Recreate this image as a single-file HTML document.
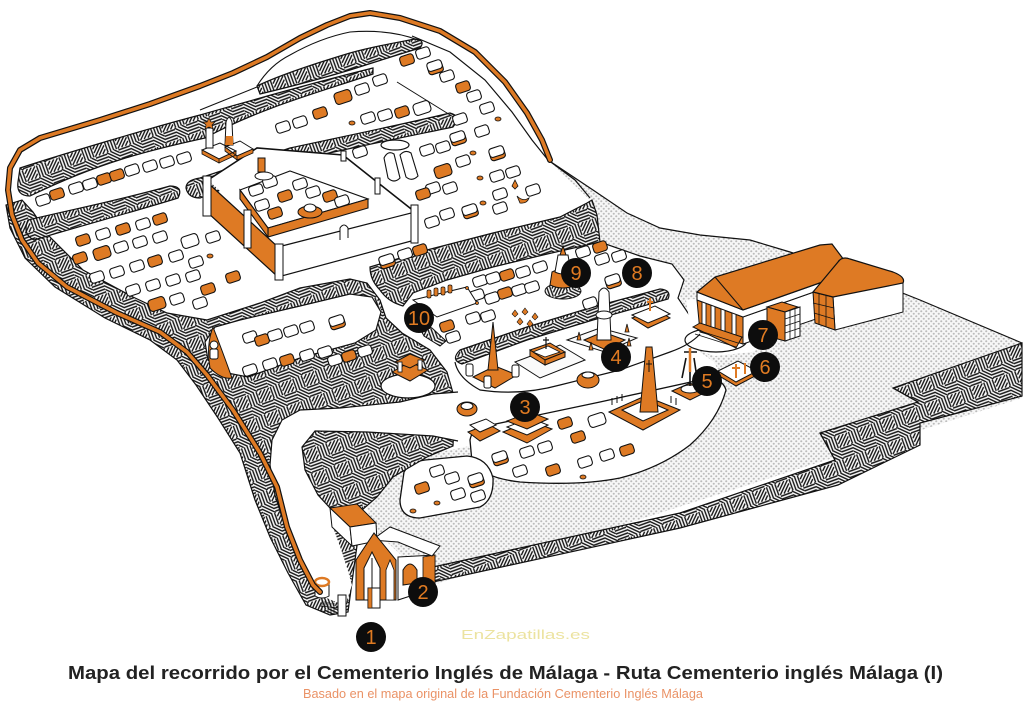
<!DOCTYPE html>
<html><head><meta charset="utf-8"><style>
html,body{margin:0;padding:0;background:#fff;}
svg{display:block;}
</style></head><body>
<svg width="1024" height="716" viewBox="0 0 1024 716" xmlns="http://www.w3.org/2000/svg">
<defs>
<pattern id="h" width="24" height="24" patternUnits="userSpaceOnUse" patternTransform="rotate(-20)">
<rect width="24" height="24" fill="#fff"/>
<path d="M1.5 0V12M4.5 0V12M7.5 0V12M10.5 0V12M12 13.5H24M12 16.5H24M12 19.5H24M12 22.5H24M12 4L16 0M12 8L20 0M12 12L24 0M16 12L24 4M20 12L24 8M0 12L12 24M4 12L12 20M8 12L12 16M0 16L8 24M0 20L4 24" stroke="#111" stroke-width="1.4" fill="none"/>
</pattern>
<pattern id="d" width="5" height="5" patternUnits="userSpaceOnUse">
<rect width="5" height="5" fill="#f7f7f7"/>
<circle cx="1.25" cy="1.25" r="1.05" fill="#bcbcbc"/>
<circle cx="3.75" cy="3.75" r="1.05" fill="#bcbcbc"/>
</pattern>
<g id="w"><rect x="-7" y="-5" width="14" height="10" rx="3" transform="rotate(-18)" fill="#fff" stroke="#111" stroke-width="1.1"/></g>
<g id="o"><rect x="-7" y="-5" width="14" height="10" rx="3" transform="rotate(-18)" fill="#de7a24" stroke="#111" stroke-width="1.1"/></g>
<g id="wb"><rect x="-8.5" y="-6" width="17" height="12" rx="3.5" transform="rotate(-18)" fill="#fff" stroke="#111" stroke-width="1.1"/></g>
<g id="ob"><rect x="-8.5" y="-6" width="17" height="12" rx="3.5" transform="rotate(-18)" fill="#de7a24" stroke="#111" stroke-width="1.1"/></g>
<g id="wo"><rect x="-7.5" y="-3.5" width="15" height="10" rx="3" transform="rotate(-18)" fill="#de7a24" stroke="#111" stroke-width="1.1"/><rect x="-7.5" y="-6" width="15" height="9" rx="3" transform="rotate(-18)" fill="#fff" stroke="#111" stroke-width="1.1"/></g>
<g id="s"><ellipse rx="3" ry="2" fill="#de7a24" stroke="#111" stroke-width="0.8"/></g>
</defs>

<!-- dotted ground -->
<path d="M548,160 L593,190 L627,213 L660,228 L700,235 L750,240 L790,252 L850,272 L920,300 L1022,343 L1022,398 L433,585 L372,528 L365,498 L395,462 L465,445 L700,380 L600,245 L590,200 Z" fill="url(#d)"/>
<path d="M548,160 L593,190 L627,213 L660,228 L700,235 L750,240 L790,252 L850,272 L920,300 L1022,343" fill="none" stroke="#111" stroke-width="1.2"/>

<!-- central white region over dotted -->
<path d="M590,198 L600,240 L640,257 L672,264 L684,280 L680,298 L690,316 L700,324 L690,338 L700,352 L714,362 L724,382 L700,382 L470,446 L440,452 L448,400 L452,350 L420,300 L440,270 L540,230 Z" fill="#fff"/>
<path d="M600,242 L640,256 L672,264 L684,280 L678,298 L690,316 L700,324" fill="none" stroke="#111" stroke-width="1.2"/>

<!-- lower terrace (3) -->
<path d="M470,440 Q472,428 486,426 L600,402 L700,380 Q722,376 726,390 Q718,420 690,445 Q660,468 620,478 Q580,486 520,482 Q484,478 472,462 Z" fill="#fff" stroke="#111" stroke-width="1.3"/>
<!-- small island -->
<path d="M404,472 Q410,462 425,460 L467,456 Q488,458 493,478 Q494,500 480,507 L420,518 Q400,518 400,500 Z" fill="#fff" stroke="#111" stroke-width="1.3"/>
<!-- white path near 5-7 -->
<path d="M686,300 Q700,296 720,310 L760,330 Q770,345 752,352 L715,356 Q698,352 692,338 Z" fill="#fff"/>
<ellipse cx="716" cy="340" rx="31" ry="12" fill="#fff" stroke="#111" stroke-width="1.2"/>

<!-- right cliff & bottom band -->
<path d="M433,567 L680,513 L835,460 L820,433 L918,402 L893,388 L1022,343 L1022,396 L920,423 L920,445 L838,485 L680,528 L433,582 Z" fill="url(#h)" stroke="#111" stroke-width="1.2"/>
<path d="M820,433 L835,460 M893,388 L918,402" stroke="#111" stroke-width="1.2" fill="none"/>

<!-- big left hatched mass -->
<path d="M6,205 L10,228 L25,258 L55,287 L105,318 L150,340 L177,360 L196,385 L218,418 L240,453 L255,500 L270,537 L288,573 L306,605 L330,615 L348,612 L355,560 L362,510 L377,497 L393,477 L427,457 L453,446 L455,400 L447,372 L430,350 L402,333 L386,318 L380,300 L367,283 L350,279 L300,288 L260,303 L207,320 L167,313 L133,297 L83,270 L50,237 L33,212 L22,200 Z" fill="url(#h)" stroke="#111" stroke-width="1.2"/>
<!-- white curved path -->
<path d="M458,392 L433,394 L400,402 L340,408 L300,410 L282,420 L272,440 L270,465 L275,495 L286,530 L302,565 L320,595 L345,606 L352,585 L343,555 L333,527 L330,508 L318,495 L305,470 L302,447 L315,431 L367,432 L433,436 L458,441 Z" fill="#fff"/>
<path d="M458,392 L433,394 L400,402 L340,408 L300,410 L282,420 L272,440 L270,465 L275,495 L286,530 L302,565 L320,595 M330,508 L318,495 L305,470 L302,447 L315,431 L367,432 L433,436 L458,441" fill="none" stroke="#111" stroke-width="1.2"/>
<!-- lock row island -->
<path d="M205,342 L215,327 L240,320 L300,306 L350,294 L372,297 L381,312 L376,330 L355,343 L300,358 L248,377 L222,372 L208,360 Z" fill="#fff" stroke="#111" stroke-width="1.2"/>
<!-- monument base in F -->
<ellipse cx="408" cy="386" rx="27" ry="12" fill="#fff" stroke="#111" stroke-width="1.2"/>

<!-- top strips -->
<path d="M257,86 C280,75 320,62 350,53 C375,46 400,42 415,39 Q426,40 420,48 C400,54 375,62 350,70 C320,79 285,88 260,94 Z" fill="url(#h)" stroke="#111" stroke-width="1.2"/>
<path d="M257,86 Q270,65 290,55 Q320,38 350,32 Q390,29 418,40" fill="none" stroke="#111" stroke-width="1.1"/>
<path d="M200,110 L257,87" fill="none" stroke="#111" stroke-width="1.1"/>
<path d="M20,168 C60,155 150,128 200,115 C250,101 300,86 373,68 L373,74 C320,92 260,108 205,138 C150,150 100,162 30,196 Q16,196 18,182 Z" fill="url(#h)" stroke="#111" stroke-width="1.2"/>
<path d="M28,220 C70,210 120,200 170,186 Q184,186 178,198 C140,210 80,226 34,240 Q22,234 28,220 Z" fill="url(#h)" stroke="#111" stroke-width="1.2"/>
<path d="M186,188 Q186,180 200,178 L290,148 C350,135 400,125 450,113 Q462,116 453,127 C400,138 350,148 298,160 L200,198 Q188,198 186,188 Z" fill="url(#h)" stroke="#111" stroke-width="1.2"/>
<!-- cliff band of top terrace -->
<path d="M370,267 L427,250 L493,233 L560,217 L587,203 L592,200 L597,215 L600,242 L543,255 L493,267 L447,280 L413,293 L403,306 Q388,302 380,290 Q370,280 370,267 Z" fill="url(#h)" stroke="#111" stroke-width="1.2"/>
<!-- strip behind 4 -->
<path d="M460,350 L527,327 L593,307 L660,289 Q672,290 668,299 L593,320 L527,340 L462,364 Q450,360 460,350 Z" fill="url(#h)" stroke="#111" stroke-width="1.2"/>
<path d="M416,321 L432,328 L446,341 L440,346 L424,336 Z" fill="url(#h)" stroke="#111" stroke-width="1"/>
<!-- middle terrace outline -->
<path d="M455,362 Q458,378 480,390 Q520,396 560,385 L620,370 L670,352 Q690,345 700,334" fill="none" stroke="#111" stroke-width="1.2"/>

<!-- top terrace right edge line -->
<path d="M412,36 L450,52 L485,80 L512,112 L532,140 L548,160 L575,180 L590,198" fill="none" stroke="#111" stroke-width="1.2"/>
<path d="M397,82 L455,118" fill="none" stroke="#111" stroke-width="1"/>

<!-- ===== Tombs ===== -->
<g>
<use href="#w" x="43" y="200"/><use href="#o" x="57" y="194"/><use href="#w" x="76" y="188"/><use href="#w" x="90" y="184"/><use href="#o" x="104" y="179"/><use href="#o" x="117" y="175"/><use href="#w" x="132" y="170"/><use href="#w" x="150" y="166"/><use href="#w" x="167" y="162"/><use href="#w" x="184" y="158"/>
<use href="#o" x="83" y="240"/><use href="#w" x="103" y="234"/><use href="#o" x="123" y="229"/><use href="#w" x="143" y="224"/><use href="#o" x="160" y="219"/>
<use href="#o" x="80" y="258"/><use href="#ob" x="102" y="253"/><use href="#w" x="121" y="247"/><use href="#w" x="140" y="242"/><use href="#w" x="160" y="237"/><use href="#wb" x="190" y="241"/><use href="#w" x="213" y="237"/>
<use href="#w" x="97" y="277"/><use href="#w" x="117" y="272"/><use href="#w" x="137" y="266"/><use href="#o" x="155" y="261"/><use href="#w" x="176" y="256"/><use href="#w" x="196" y="262"/><use href="#s" x="210" y="256"/><use href="#o" x="233" y="277"/>
<use href="#w" x="133" y="290"/><use href="#w" x="153" y="285"/><use href="#w" x="173" y="280"/><use href="#w" x="193" y="276"/><use href="#o" x="208" y="289"/>
<use href="#ob" x="157" y="304"/><use href="#w" x="177" y="299"/><use href="#w" x="200" y="303"/>
<use href="#w" x="283" y="127"/><use href="#w" x="300" y="122"/><use href="#o" x="320" y="113"/><use href="#ob" x="343" y="97"/><use href="#w" x="362" y="89"/><use href="#w" x="380" y="80"/>
<use href="#s" x="352" y="123"/><use href="#w" x="368" y="118"/><use href="#w" x="385" y="115"/><use href="#o" x="402" y="112"/><use href="#wb" x="422" y="108"/>
<use href="#o" x="407" y="60"/><use href="#w" x="423" y="53"/><use href="#wo" x="435" y="67"/><use href="#w" x="447" y="76"/><use href="#o" x="463" y="87"/><use href="#w" x="474" y="96"/><use href="#w" x="487" y="108"/><use href="#s" x="498" y="119"/>
<use href="#w" x="360" y="152"/><use href="#w" x="427" y="150"/><use href="#w" x="443" y="147"/><use href="#s" x="473" y="153"/><use href="#w" x="463" y="161"/><use href="#ob" x="443" y="171"/><use href="#w" x="482" y="131"/><use href="#w" x="460" y="119"/><use href="#wo" x="458" y="138"/><use href="#wo" x="497" y="153"/>
<use href="#s" x="480" y="178"/><use href="#w" x="497" y="176"/><use href="#w" x="513" y="172"/><use href="#w" x="533" y="190"/><use href="#w" x="500" y="194"/><use href="#w" x="500" y="208"/><use href="#s" x="483" y="203"/><use href="#wo" x="470" y="211"/><use href="#w" x="450" y="188"/><use href="#w" x="433" y="188"/><use href="#o" x="423" y="194"/><use href="#w" x="447" y="214"/><use href="#w" x="432" y="222"/>
<use href="#wo" x="387" y="261"/><use href="#w" x="405" y="254"/><use href="#o" x="420" y="250"/>
<use href="#w" x="480" y="281"/><use href="#w" x="493" y="278"/><use href="#o" x="507" y="275"/><use href="#w" x="523" y="272"/><use href="#w" x="540" y="267"/><use href="#w" x="583" y="252"/><use href="#o" x="600" y="247"/><use href="#w" x="602" y="259"/><use href="#w" x="619" y="256"/><use href="#wo" x="613" y="281"/><use href="#w" x="477" y="295"/><use href="#w" x="492" y="298"/><use href="#o" x="505" y="293"/><use href="#w" x="519" y="290"/><use href="#w" x="532" y="287"/><use href="#w" x="590" y="303"/>
<use href="#w" x="473" y="318"/><use href="#w" x="488" y="316"/><use href="#o" x="447" y="326"/><use href="#w" x="453" y="337"/>
<use href="#w" x="250" y="337"/><use href="#o" x="262" y="340"/><use href="#w" x="275" y="335"/><use href="#w" x="291" y="331"/><use href="#w" x="307" y="327"/><use href="#wo" x="337" y="322"/><use href="#w" x="307" y="355"/><use href="#w" x="325" y="352"/><use href="#w" x="335" y="360"/><use href="#o" x="349" y="356"/><use href="#w" x="365" y="351"/><use href="#w" x="250" y="370"/><use href="#w" x="270" y="364"/><use href="#o" x="287" y="360"/>
<use href="#o" x="565" y="423"/><use href="#wb" x="597" y="420"/><use href="#wo" x="500" y="458"/><use href="#w" x="527" y="452"/><use href="#w" x="545" y="447"/><use href="#o" x="578" y="437"/><use href="#w" x="520" y="471"/><use href="#o" x="553" y="470"/><use href="#w" x="585" y="462"/><use href="#w" x="607" y="455"/><use href="#o" x="627" y="450"/><use href="#s" x="583" y="477"/>
<use href="#o" x="422" y="488"/><use href="#w" x="437" y="471"/><use href="#w" x="452" y="478"/><use href="#wo" x="476" y="480"/><use href="#w" x="478" y="496"/><use href="#w" x="458" y="494"/><use href="#s" x="437" y="503"/><use href="#s" x="413" y="511"/>
</g>

<!-- ===== Enclosure ===== -->
<path d="M208,180 L257,148 L343,155 L377,182 L415,212 L280,247 Z" fill="#fff"/>
<path d="M208,180 L257,148 L343,155 L377,182 L415,212" fill="none" stroke="#111" stroke-width="1.6"/>
<path d="M208,183 L278,247 L278,277 L208,213 Z" fill="#de7a24" stroke="#111" stroke-width="1.2"/>
<path d="M278,247 L415,212 L415,240 L278,277 Z" fill="#fff" stroke="#111" stroke-width="1.2"/>
<path d="M340,240 L340,228 Q344,222 348,228 L348,238" fill="#fff" stroke="#111" stroke-width="1"/>
<path d="M240,190 L290,171 L368,199 L268,228 Z" fill="#fff" stroke="#111" stroke-width="1.1"/>
<path d="M268,228 L368,199 L368,208 L268,237 Z" fill="#de7a24" stroke="#111" stroke-width="1.1"/>
<path d="M240,190 L268,228 L268,237 L240,199 Z" fill="#de7a24" stroke="#111" stroke-width="1.1"/>
<use href="#w" x="256" y="190"/><use href="#w" x="270" y="182"/><use href="#o" x="285" y="196"/><use href="#w" x="300" y="184"/><use href="#w" x="313" y="192"/><use href="#o" x="330" y="196"/><use href="#w" x="262" y="205"/><use href="#o" x="275" y="213"/><use href="#w" x="342" y="201"/>
<ellipse cx="310" cy="212" rx="12" ry="6" fill="#de7a24" stroke="#111"/><ellipse cx="310" cy="208" rx="6" ry="4" fill="#fff" stroke="#111"/>
<rect x="258" y="158" width="7" height="14" fill="#de7a24" stroke="#111"/><ellipse cx="264" cy="176" rx="9" ry="4" fill="#fff" stroke="#111"/>
<rect x="203" y="176" width="8" height="40" fill="#fff" stroke="#111"/>
<rect x="244" y="210" width="7" height="38" fill="#fff" stroke="#111"/>
<rect x="275" y="244" width="8" height="36" fill="#fff" stroke="#111"/>
<rect x="411" y="205" width="7" height="38" fill="#fff" stroke="#111"/>
<rect x="375" y="178" width="5" height="16" fill="#fff" stroke="#111"/>
<rect x="341" y="151" width="5" height="10" fill="#fff" stroke="#111"/>

<!-- monuments top-left -->
<path d="M202,150 L220,143 L236,151 L219,159 Z M225,147 L240,141 L253,149 L237,156 Z" fill="#fff" stroke="#111"/>
<path d="M202,150 L219,159 L219,163 L202,154 Z M219,159 L236,151 L236,155 L219,163 Z M225,147 L237,156 L237,160 L225,151 Z M237,156 L253,149 L253,153 L237,160 Z" fill="#de7a24" stroke="#111" stroke-width="0.8"/>
<rect x="206" y="128" width="7" height="20" fill="#fff" stroke="#111"/>
<path d="M209,118 l2,4 4,0 -3,3 1,4 -4,-2 -4,2 1,-4 -3,-3 4,0z" fill="#de7a24" stroke="#111" stroke-width="0.7"/>
<path d="M225,145 L226,122 Q229,113 232,122 L233,145 Z" fill="#fff" stroke="#111"/>
<path d="M226,136 L233,136 L233,145 L225,145 Z" fill="#de7a24"/>
<!-- sarcophagi top-right -->
<ellipse cx="395" cy="145" rx="14" ry="5" fill="#fff" stroke="#111" stroke-width="1.2"/>
<path d="M384,158 Q388,150 394,154 L400,178 Q394,184 388,178 Z M400,155 Q405,149 411,153 L418,176 Q412,182 406,177 Z" fill="#fff" stroke="#111" stroke-width="1.1"/>
<path d="M515,180 l3,6 -3,3 -3,-3z" fill="#de7a24" stroke="#111" stroke-width="0.8"/>
<path d="M517,196 q6,6 12,2 q-2,6 -9,5z" fill="#de7a24" stroke="#111" stroke-width="0.8"/>

<!-- 9 monument -->
<ellipse cx="563" cy="291" rx="18" ry="8" fill="url(#h)" stroke="#111"/>
<path d="M550,285 L552,272 Q563,266 574,272 L576,285 Q563,291 550,285 Z" fill="#de7a24" stroke="#111"/>
<path d="M555,272 L558,255 L568,255 L571,272 Q563,276 555,272 Z" fill="#fff" stroke="#111"/>
<path d="M560,255 L563,246 L566,255 Z" fill="#de7a24" stroke="#111"/>
<!-- 10 enclosure -->
<path d="M413,300 L467,287 L477,303 L437,317 Z" fill="#fff" stroke="#111" stroke-width="1"/>
<g fill="#de7a24" stroke="#111" stroke-width="0.7"><rect x="427" y="290" width="4" height="8" rx="1.5"/><rect x="434" y="288" width="4" height="8" rx="1.5"/><rect x="441" y="287" width="4" height="8" rx="1.5"/><rect x="448" y="285" width="4" height="8" rx="1.5"/><circle cx="467" cy="288" r="1.5"/><circle cx="477" cy="303" r="1.5"/></g>
<g fill="#de7a24" stroke="#111" stroke-width="0.6"><path d="M515,310 l3,4 -3,3 -3,-3z"/><path d="M525,308 l3,4 -3,3 -3,-3z"/><path d="M535,313 l3,4 -3,3 -3,-3z"/><path d="M520,318 l3,4 -3,3 -3,-3z"/><path d="M530,320 l3,4 -3,3 -3,-3z"/></g>

<!-- middle terrace monuments -->
<path d="M515,362 L560,345 L585,360 L540,378 Z" fill="#fafafa" stroke="#111" stroke-width="1"/>
<path d="M530,350 L550,343 L565,352 L545,360 Z" fill="#de7a24" stroke="#111"/>
<path d="M533,352 L548,346 L560,352 L545,357 Z" fill="#fff" stroke="#111" stroke-width="0.8"/>
<path d="M530,350 L545,360 L545,365 L530,356 Z M545,360 L565,352 L565,357 L545,365 Z" fill="#de7a24" stroke="#111"/>
<path d="M546,349 V337 M543,340 H549" stroke="#111" stroke-width="1.2"/>
<path d="M473,377 L495,366 L517,375 L495,388 Z" fill="#de7a24" stroke="#111"/>
<path d="M488,370 L493,322 L498,370 Z" fill="#de7a24" stroke="#111"/>
<g fill="#fff" stroke="#111" stroke-width="1"><rect x="466" y="364" width="7" height="12" rx="2"/><rect x="484" y="376" width="7" height="12" rx="2"/><rect x="512" y="365" width="7" height="12" rx="2"/></g>
<path d="M567,340 L600,328 L637,338 L605,352 Z" fill="#fafafa" stroke="#111" stroke-width="1"/>
<path d="M584,340 L603,332 L625,340 L606,350 Z" fill="#de7a24" stroke="#111"/>
<path d="M597,340 L599,292 Q604,284 609,292 L611,340 Z" fill="#fff" stroke="#111"/>
<ellipse cx="604" cy="315" rx="8" ry="4" fill="#fff" stroke="#111"/>
<g fill="#de7a24" stroke="#111" stroke-width="0.8"><path d="M577,340 l2,-8 2,8z"/><path d="M589,350 l2,-8 2,8z"/><path d="M625,332 l2,-8 2,8z"/><path d="M627,346 l2,-8 2,8z"/></g>
<ellipse cx="588" cy="380" rx="11" ry="8" fill="#de7a24" stroke="#111"/><ellipse cx="588" cy="375" rx="6" ry="3" fill="#fff" stroke="#111"/>
<path d="M632,318 L655,309 L670,318 L648,328 Z" fill="#de7a24" stroke="#111"/>
<path d="M632,315 L655,306 L670,314 L648,323 Z" fill="#fff" stroke="#111"/>
<path d="M650,311 V298 M647,302 H653" stroke="#de7a24" stroke-width="2"/>
<!-- left monument in F -->
<path d="M392,372 L410,362 L428,370 L410,381 Z" fill="#de7a24" stroke="#111"/>
<path d="M395,362 L410,354 L425,360 L410,368 Z" fill="#de7a24" stroke="#111"/>
<rect x="398" y="362" width="4" height="10" fill="#fff" stroke="#111" stroke-width="0.8"/><rect x="418" y="360" width="4" height="10" fill="#fff" stroke="#111" stroke-width="0.8"/>
<!-- lock -->
<path d="M213,327 Q206,345 210,368 Q222,380 232,378 Q222,350 213,327 Z" fill="#de7a24" stroke="#111"/>
<circle cx="214" cy="345" r="4" fill="#fff" stroke="#111"/><rect x="210" y="349" width="8" height="10" rx="2" fill="#fff" stroke="#111"/>

<!-- lower terrace monuments -->
<ellipse cx="467" cy="409" rx="10" ry="7" fill="#de7a24" stroke="#111"/><ellipse cx="467" cy="406" rx="6" ry="3.5" fill="#fff" stroke="#111"/>
<path d="M468,432 L488,424 L500,431 L480,441 Z" fill="#de7a24" stroke="#111"/>
<path d="M470,425 L486,419 L496,425 L480,432 Z" fill="#fff" stroke="#111"/>
<path d="M503,432 L530,421 L552,429 L527,443 Z" fill="#de7a24" stroke="#111"/>
<path d="M507,427 L530,418 L548,425 L527,435 Z" fill="#fff" stroke="#111"/>
<path d="M507,421 L530,412 L548,419 L527,429 Z" fill="#de7a24" stroke="#111"/>
<path d="M609,412 L645,396 L680,410 L643,430 Z" fill="#de7a24" stroke="#111"/>
<path d="M622,410 L645,400 L668,410 L643,421 Z" fill="#fff" stroke="#111"/>
<path d="M640,412 L646,347 L652,347 L658,412 Z" fill="#de7a24" stroke="#111"/>
<path d="M649,360 V372 M646,364 H652" stroke="#111" stroke-width="1"/>
<path d="M612,398 V405 M617,396 V403 M622,394 V401 M671,396 V403 M676,398 V405" stroke="#111" stroke-width="1"/>
<path d="M672,391 L690,383 L708,391 L690,400 Z" fill="#de7a24" stroke="#111"/>
<ellipse cx="690" cy="389" rx="9" ry="4" fill="#fff" stroke="#111"/>
<path d="M690,386 V350 M684,352 H697 M686,358 L682,378 M694,358 L697,378" stroke="#111" stroke-width="1.6"/>
<path d="M690,348 V372" stroke="#de7a24" stroke-width="2.5"/>
<!-- plaque 6 -->
<path d="M716,374 L738,363 L759,374 L736,386 Z" fill="#de7a24" stroke="#111"/>
<path d="M718,371 L738,361 L757,371 L736,382 Z" fill="#fff" stroke="#111"/>
<path d="M736,364 V378 M732,368 H740 M745,363 V374" stroke="#de7a24" stroke-width="2"/>

<!-- ===== Church 7 ===== -->
<path d="M697,300 L743,317 L743,344 L700,332 Z" fill="#de7a24" stroke="#111"/>
<g fill="#fff" stroke="#111" stroke-width="0.9"><rect x="702" y="300" width="4" height="32"/><rect x="711" y="303" width="4" height="32"/><rect x="721" y="307" width="4" height="32"/><rect x="732" y="311" width="4" height="32"/></g>
<path d="M743,317 L848,280 L848,308 L743,344 Z" fill="#fff" stroke="#111"/>
<path d="M693,327 L700,323 L742,337 L736,348 Z" fill="#de7a24" stroke="#111"/>
<path d="M697,330 L738,343 M695,334 L736,347" stroke="#111" stroke-width="0.8"/>
<path d="M697,292 L743,310 L848,273 L848,280 L743,317 L697,300 Z" fill="#fff" stroke="#111"/>
<path d="M697,292 L715,277 L820,245 L832,244 L850,268 L848,273 L743,310 Z" fill="#de7a24" stroke="#111" stroke-width="1.2"/>
<path d="M715,277 L743,310" stroke="#111" stroke-width="1"/>
<path d="M767,307 L782,302 L798,307 L785,312 Z" fill="#de7a24" stroke="#111"/>
<path d="M767,307 L785,312 L785,341 L767,336 Z" fill="#de7a24" stroke="#111"/>
<path d="M785,312 L800,307 L800,336 L785,341 Z" fill="#fff" stroke="#111"/>
<path d="M790,310 V339 M795,308.5 V337.5 M785,319 L800,314 M785,326 L800,321 M785,333 L800,328" stroke="#111" stroke-width="0.8"/>
<path d="M833,297 L903,281 L903,312 L835,330 Z" fill="#fff" stroke="#111"/>
<path d="M813,292 L833,297 L835,330 L815,323 Z" fill="#de7a24" stroke="#111"/>
<path d="M819,294 V325 M826,295 V327 M813,303 L834,308 M814,313 L834,319" stroke="#111" stroke-width="0.8"/>
<path d="M813,292 L838,262 Q842,256 850,259 L893,272 Q906,277 903,283 L833,297 Z" fill="#de7a24" stroke="#111" stroke-width="1.2"/>

<!-- ===== Gate 2 ===== -->
<path d="M330,508 L357,504 L376,523 L350,527 Z" fill="#de7a24" stroke="#111"/>
<path d="M330,508 L350,527 L352,546 L332,527 Z" fill="#fff" stroke="#111"/>
<path d="M350,527 L376,523 L377,541 L352,546 Z" fill="#fff" stroke="#111"/>
<path d="M398,557 L435,555 L435,588 L398,600 Z" fill="#fff" stroke="#111"/>
<path d="M423,557 L435,555 L435,585 L423,588 Z" fill="#de7a24" stroke="#111" stroke-width="0.8"/>
<path d="M403,585 L403,570 Q410,558 417,570 L417,583 Z" fill="#de7a24" stroke="#111"/>
<path d="M372,540 L390,527 L440,546 L432,556 L398,542 Z" fill="#fff" stroke="#111"/>
<path d="M356,600 L356,560 L374,533 L396,560 L396,600 Z" fill="#de7a24" stroke="#111"/>
<path d="M364,600 L364,568 L372,552 L380,568 L380,600 Z" fill="#fff" stroke="#111"/>
<path d="M386,600 L386,570 L390,560 L394,570 L394,600 Z" fill="#fff" stroke="#111" stroke-width="0.8"/>
<path d="M372,558 V600" stroke="#111" stroke-width="1"/>
<rect x="368" y="588" width="12" height="20" fill="#fff" stroke="#111"/><rect x="368" y="588" width="4" height="20" fill="#de7a24" stroke="#111" stroke-width="0.6"/>
<!-- tower / fence at 1 -->
<path d="M315,582 L315,596 Q322,600 329,596 L329,582 Z" fill="#fff" stroke="#111"/>
<ellipse cx="322" cy="582" rx="7" ry="4" fill="#fff" stroke="#de7a24" stroke-width="2.5"/>
<path d="M322,600 V612 M325,601 V613 M328,602 V614 M331,603 V615 M334,603 V615 M320,606 L338,608" stroke="#111" stroke-width="0.7"/>
<rect x="338" y="595" width="8" height="21" fill="#fff" stroke="#111"/>

<!-- orange wall -->
<path d="M320,592 L313,585 L300,560 L287,527 L277,487 L260,453 L233,410 L207,375 L187,352 L160,332 L117,313 L67,287 L38,263 L22,240 L12,215 L8,190 L10,168 L20,150 L40,138 L100,120 L150,104 L200,86 L233,73 L267,57 L300,38 L327,25 L350,16 L370,13 L400,18 L440,31 L475,52 L505,82 L527,113 L542,140 L550,160" fill="none" stroke="#111" stroke-width="6" stroke-linejoin="round" stroke-linecap="round"/>
<path d="M320,592 L313,585 L300,560 L287,527 L277,487 L260,453 L233,410 L207,375 L187,352 L160,332 L117,313 L67,287 L38,263 L22,240 L12,215 L8,190 L10,168 L20,150 L40,138 L100,120 L150,104 L200,86 L233,73 L267,57 L300,38 L327,25 L350,16 L370,13 L400,18 L440,31 L475,52 L505,82 L527,113 L542,140 L550,160" fill="none" stroke="#de7a24" stroke-width="3.6" stroke-linejoin="round" stroke-linecap="round"/>

<!-- markers -->
<g fill="#0d0d0d">
<circle cx="371" cy="637" r="15"/><circle cx="423" cy="592" r="15"/><circle cx="525" cy="407" r="15"/><circle cx="616" cy="357" r="15"/><circle cx="707" cy="381" r="15"/><circle cx="765" cy="367" r="15"/><circle cx="763" cy="335" r="15"/><circle cx="637" cy="273" r="15"/><circle cx="576" cy="273" r="15"/><circle cx="419" cy="318" r="15"/>
</g>
<g font-family="'Liberation Sans', sans-serif" font-size="20" fill="#e07b22" text-anchor="middle">
<text x="371" y="644">1</text><text x="423" y="599">2</text><text x="525" y="414">3</text><text x="616" y="364">4</text><text x="707" y="388">5</text><text x="765" y="374">6</text><text x="763" y="342">7</text><text x="637" y="280">8</text><text x="576" y="280">9</text><text x="419" y="325">10</text>
</g>

<!-- text -->
<text x="461" y="639" font-family="'Liberation Sans', sans-serif" font-size="13" fill="#ece3a0" textLength="129" lengthAdjust="spacingAndGlyphs">EnZapatillas.es</text>
<text x="68" y="679" font-family="'Liberation Sans', sans-serif" font-weight="bold" font-size="18" fill="#222" textLength="875" lengthAdjust="spacingAndGlyphs">Mapa del recorrido por el Cementerio Inglés de Málaga - Ruta Cementerio inglés Málaga (I)</text>
<text x="303" y="698" font-family="'Liberation Sans', sans-serif" font-size="12.5" fill="#ea9266" textLength="400" lengthAdjust="spacingAndGlyphs">Basado en el mapa original de la Fundación Cementerio Inglés Málaga</text>
</svg>
</body></html>
